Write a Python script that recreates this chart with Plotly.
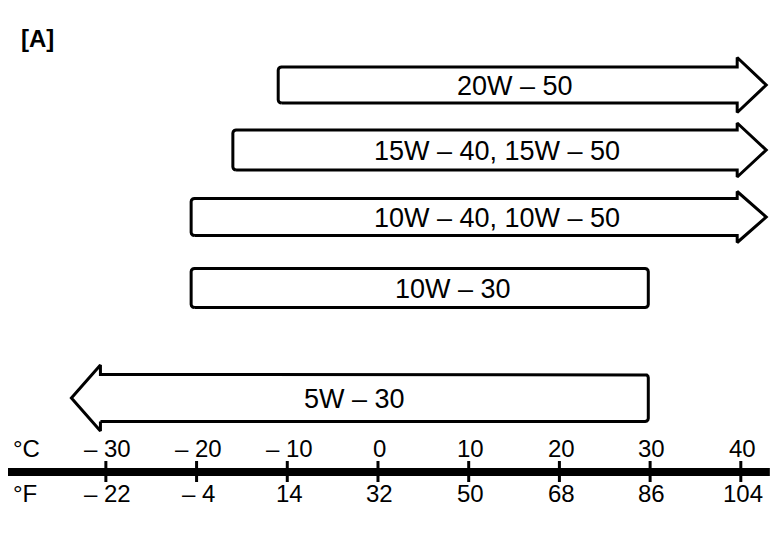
import plotly.graph_objects as go
import numpy as np

# ---------------- data ----------------
grades = ["20W – 50", "15W – 40, 15W – 50", "10W – 40, 10W – 50", "10W – 30", "5W – 30"]
low_c = [-11, -16, -20.6, -20.6, None]      # None = no lower limit (arrow to the left)
high_c = [None, None, None, 29.8, 29.8]      # None = no upper limit (arrow to the right)
c_ticks = [-30, -20, -10, 0, 10, 20, 30, 40]
c_labels = ["– 30", "– 20", "– 10", "0", "10", "20", "30", "40"]
f_labels = ["– 22", "– 4", "14", "32", "50", "68", "86", "104"]

# ---------------- layout constants (styling) ----------------
row_y = [85, 150, 217, 288, 398]
body_half = [18, 20, 18.5, 19.5, 23.5]
head_half = [27.5, 27, 25.5, 27, 33]
label_x = [15.1, 13.1, 13.1, 8.3, -2.6]
head_len = 3.2
FONT = "Liberation Sans, Arial, Helvetica, sans-serif"
X_RANGE = [-40.79, 44.32]
Y_RANGE = [539, 8]
AXIS_Y = 472

def rounded_corner(cx, cy, rx, ry, a0, a1, n=4):
    t = np.linspace(a0, a1, n)
    return list(cx + rx * np.cos(t)), list(cy + ry * np.sin(t))

def bar_polygon(lo, hi, yc, h, H):
    rx, ry = 0.35, 3.2
    xs, ys = [], []
    top, bot = yc - h, yc + h
    # left side, going from bottom to top
    if lo is None:
        xb = c_ticks[0] - 0.6
        xt = xb - head_len
        xs += [xb, xb, xt, xb, xb]
        ys += [bot, yc + H, yc, yc - H, top]
    else:
        a, b = rounded_corner(lo + rx, bot - ry, rx, ry, np.pi / 2, np.pi)
        xs += a; ys += b
        a, b = rounded_corner(lo + rx, top + ry, rx, ry, np.pi, 1.5 * np.pi)
        xs += a; ys += b
    # right side, going from top to bottom
    if hi is None:
        xb = c_ticks[-1] - 0.4
        xt = xb + head_len
        xs += [xb, xb, xt, xb, xb]
        ys += [top, yc - H, yc, yc + H, bot]
    else:
        a, b = rounded_corner(hi - rx, top + ry, rx, ry, 1.5 * np.pi, 2 * np.pi)
        xs += a; ys += b
        a, b = rounded_corner(hi - rx, bot - ry, rx, ry, 0, np.pi / 2)
        xs += a; ys += b
    xs.append(xs[0]); ys.append(ys[0])
    return xs, ys

fig = go.Figure()

for i, g in enumerate(grades):
    xs, ys = bar_polygon(low_c[i], high_c[i], row_y[i], body_half[i], head_half[i])
    fig.add_trace(go.Scatter(x=xs, y=ys, mode="lines", fill="toself",
                             fillcolor="white", line=dict(color="black", width=3),
                             hoverinfo="skip", showlegend=False))
    fig.add_annotation(x=label_x[i], y=row_y[i] + 1, text=g, showarrow=False,
                       xref="x", yref="y", font=dict(family=FONT, size=27, color="black"))

# axis line
fig.add_trace(go.Scatter(x=[-40.9, 43.2], y=[AXIS_Y, AXIS_Y], mode="lines",
                         line=dict(color="black", width=8), hoverinfo="skip", showlegend=False))
# tick marks
for t in c_ticks:
    fig.add_trace(go.Scatter(x=[t, t], y=[AXIS_Y - 11, AXIS_Y + 10], mode="lines",
                             line=dict(color="black", width=3), hoverinfo="skip", showlegend=False))

for t, cl, fl in zip(c_ticks, c_labels, f_labels):
    fig.add_annotation(x=t + 0.2, y=448, text=cl, showarrow=False, xref="x", yref="y",
                       font=dict(family=FONT, size=24, color="black"))
    fig.add_annotation(x=t + 0.2, y=493, text=fl, showarrow=False, xref="x", yref="y",
                       font=dict(family=FONT, size=24, color="black"))

fig.add_annotation(x=-40.5, y=448, text="°C", showarrow=False, xref="x", yref="y", xanchor="left",
                   font=dict(family=FONT, size=24, color="black"))
fig.add_annotation(x=-40.5, y=493, text="°F", showarrow=False, xref="x", yref="y", xanchor="left",
                   font=dict(family=FONT, size=24, color="black"))
fig.add_annotation(x=-39.6, y=38, text="<b>[A]</b>", showarrow=False, xref="x", yref="y", xanchor="left",
                   font=dict(family=FONT, size=24, color="black"))

fig.update_layout(
    width=772, height=531,
    margin=dict(l=0, r=0, t=0, b=0),
    paper_bgcolor="white", plot_bgcolor="white",
    xaxis=dict(range=X_RANGE, visible=False, fixedrange=True),
    yaxis=dict(range=Y_RANGE, visible=False, fixedrange=True),
    showlegend=False,
)

fig.write_html("out.html")
